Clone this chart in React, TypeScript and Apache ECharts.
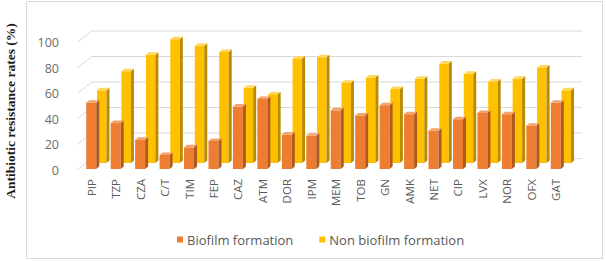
import React, { useEffect, useRef } from "react";
import * as echarts from "echarts";

const categories = ["PIP", "TZP", "CZA", "C/T", "TIM", "FEP", "CAZ", "ATM", "DOR", "IPM", "MEM", "TOB", "GN", "AMK", "NET", "CIP", "LVX", "NOR", "OFX", "GAT"];
const biofilm = [52, 36, 23, 11, 17, 22, 49, 55, 27, 26, 46, 42, 50, 43, 30, 39, 44, 43, 34, 52];
const nonBiofilm = [57, 72, 85, 97, 92, 87, 59, 54, 82, 83, 63, 67, 58, 66, 78, 70, 64, 66, 75, 57];
const yTicks = [0, 20, 40, 60, 80, 100];
const seriesNames = ["Biofilm formation", "Non biofilm formation"];
const yTitle = "Antibiotic resistance rates (%)";

const LABEL_FONT = "'Open Sans', 'Noto Sans', sans-serif";

function barRenderer(offX: number, offY: number, w: number, front: string, side: string, top: string) {
  return (params: any, api: any) => {
    const i = api.value(0);
    const v = api.value(1);
    const pTop = api.coord([i, v]);
    const pBase = api.coord([i, 0]);
    const cx = pTop[0] + offX;
    const yT = pTop[1] + offY;
    const yB = pBase[1] + offY;
    const hw = w / 2;
    const dx = 3;
    const dy = 2.5;
    return {
      type: "group",
      children: [
        {
          type: "rect",
          shape: { x: cx - hw, y: yT, width: w, height: yB - yT },
          style: { fill: front },
        },
        {
          type: "polygon",
          shape: { points: [[cx + hw, yT], [cx + hw + dx, yT - dy], [cx + hw + dx, yB - dy], [cx + hw, yB]] },
          style: { fill: side },
        },
        {
          type: "polygon",
          shape: { points: [[cx - hw, yT], [cx - hw + dx, yT - dy], [cx + hw + dx, yT - dy], [cx + hw, yT]] },
          style: { fill: top },
        },
      ],
    };
  };
}

export default function App() {
  const ref = useRef<HTMLDivElement>(null);
  useEffect(() => {
    if (!ref.current) return;
    const chart = echarts.init(ref.current, null, { renderer: "svg" });
    chart.setOption({
      animation: false,
      backgroundColor: "#ffffff",
      graphic: [
        {
          type: "rect",
          shape: { x: 26.5, y: 1.5, width: 576, height: 257 },
          style: { fill: "none", stroke: "#d9d9d9", lineWidth: 1 },
          z: 0,
        },
        {
          type: "text",
          x: 10,
          y: 111,
          rotation: Math.PI / 2,
          style: {
            text: yTitle,
            fill: "#1a1a1a",
            fontSize: 13.5,
            fontWeight: "bold",
            fontFamily: "'Liberation Serif', 'DejaVu Serif', serif",
            align: "center",
            verticalAlign: "middle",
          },
        },
      ],
      grid: { left: 79, right: 38, top: 42.5, bottom: 91 },
      legend: {
        left: 177,
        top: 233,
        padding: 0,
        icon: "rect",
        itemWidth: 6,
        itemHeight: 6,
        itemGap: 26,
        data: seriesNames,
        textStyle: { color: "#595959", fontSize: 13, fontFamily: LABEL_FONT, padding: [0, 0, 0, -1] },
      },
      xAxis: {
        type: "category",
        data: categories,
        axisLine: { show: false },
        axisTick: { show: false },
        axisLabel: { rotate: 90, margin: 9, color: "#595959", fontSize: 11.5, fontFamily: LABEL_FONT, interval: 0 },
      },
      yAxis: {
        type: "value",
        min: 0,
        max: 100,
        interval: 20,
        splitLine: { show: false },
        axisLine: { show: false },
        axisTick: { show: false },
        axisLabel: { margin: 20, color: "#6b6b6b", fontSize: 12.5, fontFamily: LABEL_FONT },
      },
      series: [
        {
          type: "custom",
          name: "grid",
          silent: true,
          z: 1,
          data: yTicks.map((v) => [0, v]),
          encode: { x: 0, y: 1 },
          renderItem: (params: any, api: any) => {
            const v = api.value(1);
            const p = api.coord([0, v]);
            const cs = params.coordSys;
            const x0 = cs.x - 2;
            const y = p[1];
            return {
              type: "polyline",
              shape: { points: [[x0, y], [x0 + 15, y - 11.5], [cs.x + cs.width + 14, y - 11.5]] },
              style: { stroke: "#d9d9d9", lineWidth: 1, fill: "none" },
            };
          },
        },
        {
          type: "custom",
          name: seriesNames[1],
          z: 2,
          itemStyle: { color: "#FFC000" },
          data: nonBiofilm.map((v, i) => [i, v]),
          encode: { x: 0, y: 1 },
          renderItem: barRenderer(10.5, -7, 9.5, "#FFC000", "#B98B00", "#FFD75E"),
        },
        {
          type: "custom",
          name: seriesNames[0],
          z: 3,
          itemStyle: { color: "#ED7D31" },
          data: biofilm.map((v, i) => [i, v]),
          encode: { x: 0, y: 1 },
          renderItem: barRenderer(0, -1, 10, "#ED7D31", "#AE5A1F", "#F3A26B"),
        },
      ],
    });
    return () => chart.dispose();
  }, []);
  return <div ref={ref} style={{ position: "fixed", left: 0, top: 0, width: 606, height: 261 }} />;
}
